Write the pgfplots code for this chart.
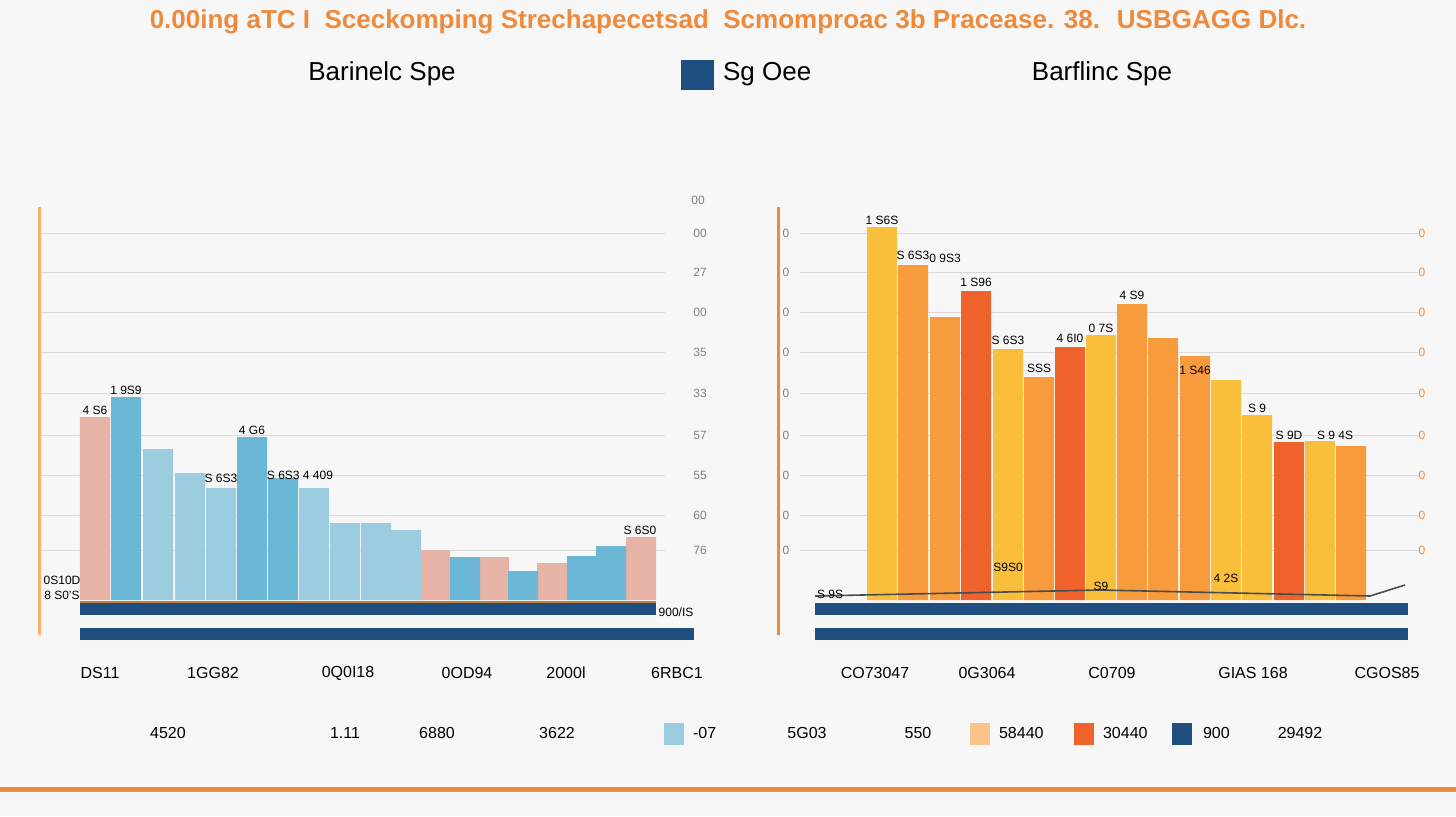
\documentclass[border=0pt]{standalone}
\usepackage{pgfplots}
\pgfplotsset{compat=1.18}
\usepackage{fontspec}
\setmainfont{Liberation Sans}
\definecolor{bg}{HTML}{F7F7F7}
\definecolor{ttl}{HTML}{EE8A3C}
\definecolor{pinkb}{HTML}{E6B3A6}
\definecolor{blueb}{HTML}{6AB7D6}
\definecolor{lblue}{HTML}{9CCCE0}
\definecolor{yel}{HTML}{F9BF3B}
\definecolor{org}{HTML}{F79B3C}
\definecolor{redb}{HTML}{EF622B}
\definecolor{navy}{HTML}{1F4E80}
\tikzset{lab/.style={font=\fontsize{6}{6}\selectfont}}
\begin{document}
\begin{tikzpicture}
\begin{scope}[x=0.5pt,y=-0.5pt,yshift=408pt]
\fill[bg] (0,0) rectangle (1456,816);
\node[text=ttl,font=\bfseries\fontsize{13}{13}\selectfont] at (728,22) {0.00ing aTC I \ Sceckomping Strechapecetsad \ Scmomproac 3b Pracease. 38. \ USBGAGG Dlc.};
\node[font=\fontsize{13}{13}\selectfont] at (382,74) {Barinelc Spe};
\fill[navy] (681,60) rectangle (714,90);
\node[font=\fontsize{13}{13}\selectfont,anchor=west] at (716,74) {Sg Oee};
\node[font=\fontsize{13}{13}\selectfont] at (1102,74) {Barflinc Spe};
\fill[ttl] (0,787) rectangle (1456,792);
\foreach \x/\t in {168/4520,345/1.11,437/6880,557/3622,807/5G03,918/550,1300/29492}{\node[font=\fontsize{8}{8}\selectfont] at (\x,733) {\t};}
\fill[lblue] (664,723) rectangle (684,745); \node[font=\fontsize{8}{8}\selectfont,anchor=west] at (686,733) {-07};
\fill[org!60] (970,723) rectangle (990,745); \node[font=\fontsize{8}{8}\selectfont,anchor=west] at (992,733) {58440};
\fill[redb] (1074,723) rectangle (1094,745); \node[font=\fontsize{8}{8}\selectfont,anchor=west] at (1096,733) {30440};
\fill[navy] (1172,723) rectangle (1192,745); \node[font=\fontsize{8}{8}\selectfont,anchor=west] at (1196,733) {900};
\foreach \x/\t in {100/DS11,213/1GG82,348/0Q0I18,467/0OD94,566/2000l,677/6RBC1,875/CO73047,987/0G3064,1112/C0709,1253/GIAS 168,1387/CGOS85}{\node[font=\fontsize{8}{8}\selectfont] at (\x,673) {\t};}
\end{scope}
\begin{axis}[at={(20pt,85.5pt)},anchor=south west,scale only axis,width=327.5pt,height=222.5pt,
 xmin=40,xmax=695,ymin=-45,ymax=400,axis lines=none,ybar,bar width=30,
 clip=false]
\foreach \yy/\lab in {367/00,328/27,288/00,248/35,207/33,165/57,125/55,85/60,50/76}{
 \edef\tmp{\noexpand\draw[gray!30] (axis cs:40,\yy)--(axis cs:665,\yy);
 \noexpand\node[lab,gray] at (axis cs:700,\yy) {\lab};}\tmp}
\node[lab,gray] at (axis cs:698,400) {00};
\addplot[fill=pinkb,draw=none,bar shift=0pt] coordinates {(95,183)(435,50)(494,43)(552,37)(641,63)};
\addplot[fill=blueb,draw=none,bar shift=0pt] coordinates {(126,203)(252,163)(283,122)(465,43)(523,29)(582,44)(611,54)};
\addplot[fill=lblue,draw=none,bar shift=0pt] coordinates {(158,151)(190,127)(221,112)(314,112)(345,77)(376,77)(406,70)};
\draw[orange!60,line width=1.5pt] (axis cs:40,393)--(axis cs:40,-35);
\fill[navy] (axis cs:80,-3) rectangle (axis cs:656,-15);
\fill[navy] (axis cs:80,-28) rectangle (axis cs:694,-40);
\draw[brown,thick] (axis cs:80,-2)--(axis cs:656,-2);
\node[lab] at (axis cs:95,190) {4 S6};
\node[lab] at (axis cs:126,210) {1 9S9};
\node[lab] at (axis cs:252,170) {4 G6};
\node[lab] at (axis cs:221,122) {S 6S3};
\node[lab] at (axis cs:300,125) {S 6S3 4 409};
\node[lab] at (axis cs:640,70) {S 6S0};
\node[lab] at (axis cs:62,20) {0S10D};
\node[lab] at (axis cs:62,5) {8 S0'S};
\node[lab] at (axis cs:676,-12) {900/IS};
\end{axis}
\begin{axis}[at={(389pt,85.5pt)},anchor=south west,scale only axis,width=321pt,height=222.5pt,
 xmin=778,xmax=1420,ymin=-45,ymax=400,axis lines=none,ybar,bar width=30,clip=false]
\foreach \yy in {367,328,288,248,207,165,125,85,50}{
 \edef\tmp{\noexpand\draw[gray!30] (axis cs:800,\yy)--(axis cs:1420,\yy);
 \noexpand\node[lab,ttl] at (axis cs:1422,\yy) {0};
 \noexpand\node[lab,gray] at (axis cs:786,\yy) {0};}\tmp}
\addplot[fill=yel,draw=none,bar shift=0pt] coordinates {(882,373)(1008,251)(1101,265)(1226,220)(1257,185)(1320,159)};
\addplot[fill=org,draw=none,bar shift=0pt] coordinates {(913,335)(945,283)(1039,223)(1132,296)(1163,262)(1195,244)(1351,154)};
\addplot[fill=redb,draw=none,bar shift=0pt] coordinates {(976,309)(1070,253)(1289,158)};
\draw[ttl,line width=1.5pt] (axis cs:778,393)--(axis cs:778,-35);
\fill[navy] (axis cs:815,-3) rectangle (axis cs:1408,-15);
\fill[navy] (axis cs:815,-28) rectangle (axis cs:1408,-40);
\draw[gray!60!black,thick] (axis cs:815,4)--(axis cs:1100,10)--(axis cs:1370,4)--(axis cs:1405,15);
\foreach \x/\yy/\t in {882/380/1 S6S,913/345/S 6S3,945/342/0 9S3,976/318/1 S96,1008/260/S 6S3,1039/232/SSS,1070/262/4 6I0,1101/272/0 7S,1132/305/4 S9,1195/230/1 S46,1257/192/S 9,1289/165/S 9D,1335/165/S 9 4S,1008/33/S9S0,1101/14/S9,1226/22/4 2S,830/6/S 9S}{
 \edef\tmp{\noexpand\node[lab] at (axis cs:\x,\yy) {\t};}\tmp}
\end{axis}
\end{tikzpicture}
\end{document}
